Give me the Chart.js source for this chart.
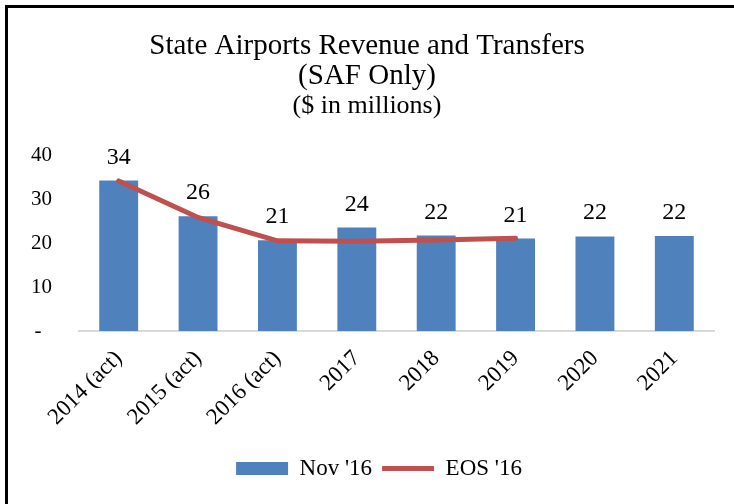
<!DOCTYPE html>
<html>
<head>
<meta charset="utf-8">
<script src="https://cdn.jsdelivr.net/npm/chart.js@4"></script>
<style>
  body { margin: 0; background: #fff; }
  #frame { position: absolute; left: 5px; top: 5px; width: 800px; height: 600px; border-left: 3px solid #000; border-top: 3px solid #000; }
  #wrap { position: absolute; left: 0; top: 0; width: 734px; height: 504px; }
</style>
</head>
<body>
<div id="frame"></div>
<div id="wrap"><canvas id="chart"></canvas></div>
<script>
var years = ['2014 (act)', '2015 (act)', '2016 (act)', '2017', '2018', '2019', '2020', '2021'];
var nov16 = [34.2, 26.1, 20.6, 23.5, 21.7, 21.0, 21.5, 21.6];
var eos16 = [34.1, 25.8, 20.5, 20.4, 20.7, 21.1, null, null];
var yTicks = [0, 10, 20, 30, 40];

var serif = '"Liberation Serif", "Times New Roman", serif';

// value labels above the blue bars
var barLabels = {
  id: 'barLabels',
  afterLayout: function (chart) {
    // legend sits a little right of centre in the original
    chart.legend.left += 24;
  },
  afterDatasetsDraw: function (chart) {
    var ctx = chart.ctx;
    var meta = chart.getDatasetMeta(1);
    ctx.save();
    ctx.font = '24px ' + serif;
    ctx.fillStyle = '#000';
    ctx.textAlign = 'center';
    ctx.textBaseline = 'alphabetic';
    meta.data.forEach(function (bar, i) {
      ctx.fillText(Math.round(nov16[i]), bar.x, bar.y - 17);
    });
    ctx.restore();
  }
};

document.addEventListener('DOMContentLoaded', function () {
  var ctx = document.getElementById('chart').getContext('2d');
  new Chart(ctx, {
    data: {
      labels: years,
      datasets: [{
        type: 'line',
        label: "EOS '16",
        data: eos16,
        borderColor: '#C0504D',
        backgroundColor: '#C0504D',
        borderWidth: 5,
        borderCapStyle: 'round',
        pointRadius: 0,
        pointStyle: 'line',
        tension: 0
      }, {
        type: 'bar',
        label: "Nov '16",
        data: nov16,
        backgroundColor: '#4F81BD',
        borderWidth: 0,
        pointStyle: 'rect',
        barPercentage: 0.49,
        categoryPercentage: 1
      }]
    },
    options: {
      responsive: true,
      maintainAspectRatio: false,
      animation: false,
      layout: { padding: { left: 20, right: 20, top: 0, bottom: 14 } },
      scales: {
        x: {
          grid: { display: false },
          border: { display: true, color: '#D9D9D9', width: 2 },
          ticks: {
            color: '#000',
            font: { family: serif, size: 23 },
            maxRotation: 45,
            minRotation: 45,
            padding: 6
          },
          afterFit: function (s) { s.height = 116; }
        },
        y: {
          min: 0,
          max: 40,
          grid: { display: false, drawTicks: false },
          border: { display: false },
          afterBuildTicks: function (s) { s.ticks = yTicks.map(function (v) { return { value: v }; }); },
          ticks: {
            color: '#000',
            font: { family: serif, size: 21 },
            padding: 27,
            callback: function (v) { return v === 0 ? '-  ' : v; }
          },
          afterFit: function (s) { s.width = 59; }
        }
      },
      plugins: {
        title: {
          display: true,
          text: ['State Airports Revenue and Transfers', '(SAF Only)'],
          color: '#000',
          font: { family: serif, size: 29, weight: 'normal', lineHeight: 30 / 29 },
          padding: { top: 31, bottom: 0 }
        },
        subtitle: {
          display: true,
          text: '($ in millions)',
          color: '#000',
          font: { family: serif, size: 26, weight: 'normal', lineHeight: 30 / 26 },
          padding: { top: 0, bottom: 34 }
        },
        legend: {
          position: 'bottom',
          reverse: true,
          labels: {
            color: '#000',
            font: { family: serif, size: 23 },
            usePointStyle: true,
            pointStyleWidth: 52,
            boxHeight: 13,
            padding: 10
          }
        },
        tooltip: { enabled: false }
      }
    },
    plugins: [barLabels]
  });
});
</script>
</body>
</html>
